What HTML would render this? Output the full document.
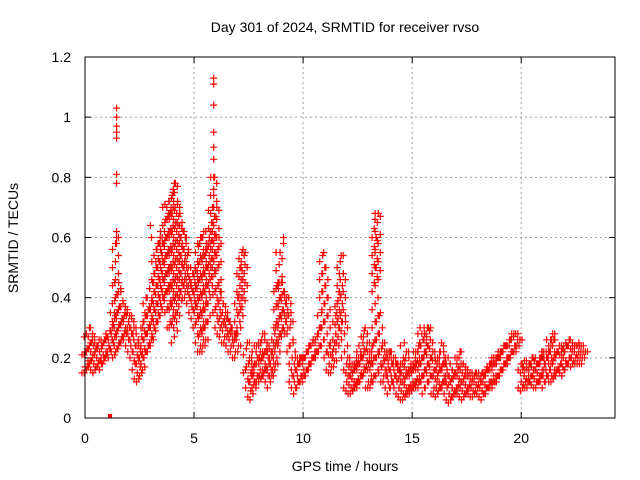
<!DOCTYPE html>
<html><head><meta charset="utf-8"><style>
body{margin:0;background:#fff}
svg{display:block;font-family:"Liberation Sans",sans-serif}
</style></head><body>
<svg id="chart" width="640" height="480" viewBox="0 0 640 480">
<rect width="640" height="480" fill="#fff"/>
<text x="345" y="32" font-size="14" text-anchor="middle">Day 301 of 2024, SRMTID for receiver rvso</text>
<text x="345" y="471" font-size="14" text-anchor="middle">GPS time / hours</text>
<text transform="translate(18,238) rotate(-90)" font-size="14" text-anchor="middle">SRMTID / TECUs</text>
<g id="grid"></g><g id="ticks"></g><g id="marks"></g>
<rect x="85" y="57" width="530" height="361" fill="none" stroke="#000" stroke-width="1"/>
</svg>
<script>
const xTicks=[0,5,10,15,20];
const yTicks=[0,0.2,0.4,0.6,0.8,1,1.2];
const t0=0, dt=0.1;
const lo=[.15,.15,.16,.17,.16,.15,.16,.17,.16,.18,
.19,.22,.20,.23,.20,.21,.23,.25,.26,.26,
.24,.22,.20,.16,.13,.12,.13,.18,.20,.22,
.22,.25,.28,.30,.32,.35,.38,.40,.35,.30,
.30,.25,.30,.35,.40,.42,.40,.40,.38,.35,
.33,.30,.25,.22,.22,.22,.30,.40,.45,.50,
.35,.30,.28,.27,.25,.25,.24,.22,.22,.20,
.20,.30,.35,.40,.15,.10,.07,.06,.10,.12,
.12,.12,.13,.14,.12,.10,.14,.14,.18,.25,
.25,.28,.30,.28,.22,.12,.10,.08,.10,.12,
.12,.12,.14,.16,.18,.18,.20,.20,.22,.40,
.30,.20,.16,.15,.15,.20,.25,.32,.30,.20,
.10,.09,.08,.08,.09,.10,.10,.12,.15,.15,
.10,.10,.10,.12,.45,.20,.15,.12,.12,.10,
.08,.10,.12,.10,.08,.07,.06,.06,.07,.08,
.08,.09,.10,.10,.10,.12,.08,.10,.15,.12,
.08,.08,.07,.08,.10,.10,.08,.06,.05,.06,
.07,.08,.08,.07,.06,.07,.08,.08,.07,.07,
.08,.08,.07,.06,.08,.08,.10,.10,.10,.12,
.12,.14,.16,.16,.18,.18,.20,.22,.22,.22,
.10,.09,.10,.10,.10,.12,.11,.10,.10,.12,
.12,.10,.12,.14,.12,.12,.13,.14,.16,.15,
.14,.16,.18,.18,.17,.18,.18,.18,.18,.18];
const hi=[.22,.27,.30,.28,.25,.24,.26,.23,.25,.26,
.27,.29,.30,.35,.60,.45,.42,.38,.37,.35,
.34,.33,.30,.28,.24,.22,.30,.35,.40,.36,
.38,.45,.52,.58,.60,.58,.62,.70,.72,.70,
.75,.78,.72,.68,.65,.62,.60,.55,.50,.48,
.50,.48,.58,.60,.62,.55,.58,.62,.70,.80,
.70,.60,.42,.38,.35,.33,.32,.30,.28,.28,
.40,.50,.56,.55,.25,.20,.18,.15,.22,.25,
.25,.28,.26,.25,.23,.22,.25,.30,.45,.55,
.45,.42,.40,.40,.35,.25,.20,.18,.20,.20,
.20,.22,.22,.24,.25,.25,.27,.30,.35,.55,
.50,.40,.25,.22,.25,.35,.42,.54,.48,.32,
.20,.18,.18,.18,.20,.20,.22,.25,.30,.28,
.20,.22,.25,.60,.68,.35,.25,.22,.22,.20,
.22,.20,.18,.18,.16,.18,.25,.22,.20,.18,
.18,.20,.22,.25,.28,.30,.25,.30,.30,.22,
.20,.18,.20,.25,.22,.18,.20,.18,.16,.15,
.18,.20,.22,.18,.16,.14,.15,.15,.14,.15,
.15,.14,.15,.15,.17,.18,.20,.20,.20,.22,
.20,.22,.24,.24,.24,.26,.27,.28,.28,.26,
.18,.19,.17,.16,.18,.20,.20,.18,.20,.22,
.20,.22,.22,.26,.28,.26,.22,.24,.22,.24,
.25,.24,.26,.25,.24,.24,.25,.24,.24,.22];
const spikeT=[1.45,1.45,1.45,1.45,1.45,1.45,1.45,1.45,1.45,5.9,5.9,5.9,5.9,5.9,5.9,5.9,5.9,4.1,4.05,3.0,3.05,13.3,13.3,13.3,13.35,13.3,13.35,9.1,9.1];
const spikeV=[1.03,1.0,.97,.95,.93,.81,.78,.62,.58,1.13,1.11,1.04,.95,.90,.86,.80,.74,.78,.76,.64,.60,.68,.66,.62,.60,.55,.50,.60,.58];
const zeroT=[1.15], zeroV=[0];
const X=v=>85+v*(530/24.3), Y=v=>418-v*(361/1.2);
const NS="http://www.w3.org/2000/svg";
const grid=document.getElementById('grid'),ticks=document.getElementById('ticks'),marks=document.getElementById('marks');
function mk(tag,at,par){const e=document.createElementNS(NS,tag);for(const k in at)e.setAttribute(k,at[k]);par.appendChild(e);return e;}
xTicks.forEach(v=>{const x=X(v);
 if(v>0){const g=mk('line',{x1:x,y1:57,x2:x,y2:418,stroke:'#a0a0a0','stroke-dasharray':'2,3'},grid);
 
 }
 mk('line',{x1:x,y1:418,x2:x,y2:412,stroke:'#000'},ticks);mk('line',{x1:x,y1:57,x2:x,y2:63,stroke:'#000'},ticks);
 const t=mk('text',{x:x,y:443,'font-size':14,'text-anchor':'middle'},ticks);t.textContent=v;
 
 });
yTicks.forEach(v=>{const y=Y(v);
 if(v>0&&v<1.2){const g=mk('line',{x1:85,y1:y,x2:615,y2:y,stroke:'#a0a0a0','stroke-dasharray':'2,3'},grid);
 
 }
 mk('line',{x1:85,y1:y,x2:91,y2:y,stroke:'#000'},ticks);mk('line',{x1:615,y1:y,x2:609,y2:y,stroke:'#000'},ticks);
 const t=mk('text',{x:71,y:y+5,'font-size':14,'text-anchor':'end'},ticks);t.textContent=v;
 
 });
let d='';
function cross(x,y){d+=`M${(x-3.5).toFixed(1)} ${y.toFixed(1)}h7M${x.toFixed(1)} ${(y-3.5).toFixed(1)}v7`;}
lo.forEach((l,i)=>{const t=t0+i*dt,h=hi[i];let k=0;
 for(let v=l;v<=h+1e-9;v+=0.02){cross(X(t)+((k%3)-1)*3,Y(v));k++;}
 cross(X(t)+1,Y(h));});
spikeT.forEach((t,i)=>cross(X(t),Y(spikeV[i])));
const p=mk('path',{d:d,stroke:'#f00','stroke-width':1.2,fill:'none'},marks);


zeroT.forEach((t,i)=>{const r=mk('rect',{x:X(t)-2,y:Y(zeroV[i])-4,width:4,height:4,fill:'#f00'},marks);
 
 });
</script>
</body></html>
